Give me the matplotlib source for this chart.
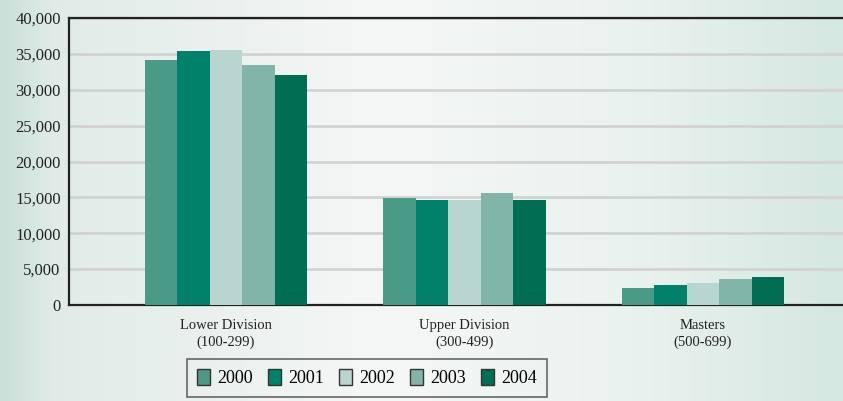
import numpy as np
from matplotlib import pyplot as plt
from matplotlib.colors import LinearSegmentedColormap

categories = ["Lower Division\n(100-299)", "Upper Division\n(300-499)", "Masters\n(500-699)"]
years = ["2000", "2001", "2002", "2003", "2004"]
values = {
    "2000": [34100, 14900, 2400],
    "2001": [35400, 14600, 2800],
    "2002": [35500, 14700, 3100],
    "2003": [33400, 15600, 3600],
    "2004": [32000, 14600, 3950],
}
colors = ["#4a9a88", "#00826a", "#b8d5cf", "#80b5a8", "#006e52"]

plt.rcParams['font.family'] = ['Liberation Serif', 'DejaVu Serif']

fig = plt.figure(figsize=(8.43, 4.01), dpi=100)

# background gradient
bg = fig.add_axes([0, 0, 1, 1], zorder=0)
cmap = LinearSegmentedColormap.from_list(
    "bg", [(0, "#cadfd9"), (0.06, "#e0ebe8"), (0.45, "#f5f7f6"), (0.75, "#eaf2ef"), (1, "#d5e7e1")])
grad = np.linspace(0, 1, 256).reshape(1, -1)
bg.imshow(grad, aspect="auto", cmap=cmap, extent=[0, 1, 0, 1])
bg.axis("off")

W, H = 843, 401
ax = fig.add_axes([69 / W, (H - 305) / H, (W - 69) / W + 0.01, 287 / H], zorder=1)
ax.set_facecolor("none")

x = np.arange(len(categories))
bw = 0.136
for i, y in enumerate(years):
    ax.bar(x + (i - 2) * bw, values[y], width=bw, color=colors[i], label=y, zorder=3)

ax.set_xlim(-0.658, 2.587 + 0.01 * W / 238.5)
ax.set_ylim(0, 40000)
ax.set_yticks(np.arange(0, 40001, 5000))
ax.set_yticklabels([f"{v:,}" for v in range(0, 40001, 5000)], fontsize=12, color="#222222")
ax.grid(axis="y", color="#d2d2d2", linewidth=2, zorder=0)
ax.set_axisbelow(True)
ax.set_xticks(x)
ax.set_xticklabels(categories, fontsize=10.5, linespacing=1.35, color="#222222")
ax.tick_params(axis="both", length=0)
ax.tick_params(axis="y", pad=6)
ax.tick_params(axis="x", pad=10)

for s in ["left", "bottom", "top"]:
    ax.spines[s].set_linewidth(1.6)
    ax.spines[s].set_color("#222222")
ax.spines["right"].set_visible(False)

leg = fig.legend(loc="upper left", bbox_to_anchor=(187 / W, (H - 359) / H), ncol=5,
                 fontsize=13, frameon=True, fancybox=False, edgecolor="#444444",
                 facecolor="none", handlelength=0.75, handleheight=1.0,
                 handletextpad=0.4, columnspacing=0.8, borderpad=0.55,
                 borderaxespad=0)
leg.get_frame().set_linewidth(1.2)
for p in leg.get_patches():
    p.set_edgecolor("#333333")
    p.set_linewidth(1)

plt.savefig("out.png", dpi=100)
